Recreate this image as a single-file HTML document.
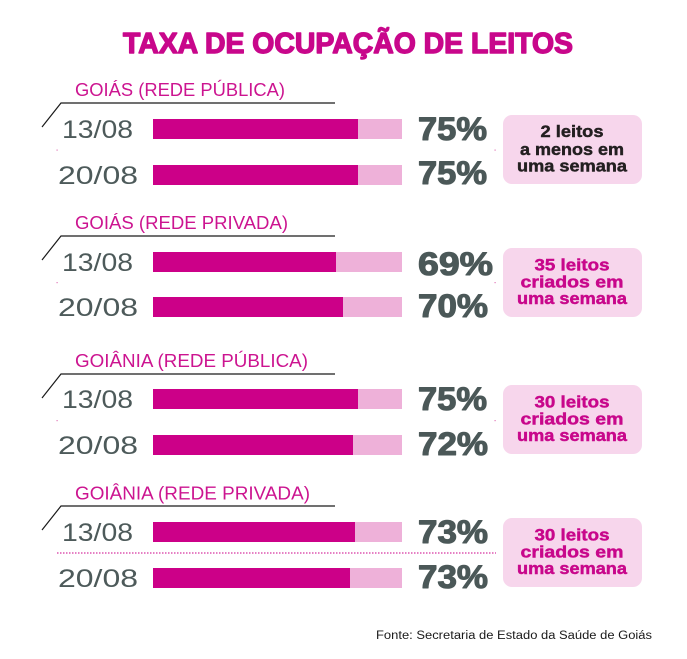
<!DOCTYPE html>
<html>
<head>
<meta charset="utf-8">
<style>
html,body{margin:0;padding:0;background:#fff;}
svg{display:block;}
.t{font-family:"Liberation Sans",sans-serif;}
.p{stroke:#4b5858;stroke-width:1.1;stroke-linejoin:round;}
.bm{stroke:#c8078b;stroke-width:0.45;}
.bd{stroke:#231f20;stroke-width:0.45;}
</style>
</head>
<body>
<svg width="687" height="659" viewBox="0 0 687 659" xmlns="http://www.w3.org/2000/svg">
<rect width="687" height="659" fill="#fff"/>
<text class="t" x="123" y="53" font-size="29" font-weight="bold" fill="#c8078b" stroke="#c8078b" stroke-width="1.4" stroke-linejoin="round" textLength="450" lengthAdjust="spacingAndGlyphs">TAXA DE OCUPAÇÃO DE LEITOS</text>

<!-- Section 1 -->
<g>
<text class="t" x="75" y="96" font-size="18" fill="#cc1490" textLength="210" lengthAdjust="spacingAndGlyphs">GOIÁS (REDE PÚBLICA)</text>
<path d="M42 127 L61 103 L335 103" fill="none" stroke="#1a1a1a" stroke-width="1.2"/>
<text class="t" x="97.5" y="138" font-size="25" fill="#4d5a5a" text-anchor="middle" textLength="71" lengthAdjust="spacingAndGlyphs">13/08</text>
<text class="t" x="98" y="184" font-size="25" fill="#4d5a5a" text-anchor="middle" textLength="80" lengthAdjust="spacingAndGlyphs">20/08</text>
<rect x="153" y="119" width="249" height="20" fill="#eeb1d9"/>
<rect x="153" y="119" width="205" height="20" fill="#cc0088"/>
<rect x="153" y="165" width="249" height="20" fill="#eeb1d9"/>
<rect x="153" y="165" width="205" height="20" fill="#cc0088"/>
<text class="t p" x="418" y="140" font-size="32" font-weight="bold" fill="#4b5858" textLength="69" lengthAdjust="spacingAndGlyphs">75%</text>
<text class="t p" x="418" y="184" font-size="32" font-weight="bold" fill="#4b5858" textLength="69" lengthAdjust="spacingAndGlyphs">75%</text>
<rect x="503" y="115" width="139" height="69" rx="9" fill="#f7d6ec"/>
<text class="t bd" x="572" y="137" font-size="17" font-weight="bold" fill="#231f20" text-anchor="middle" textLength="63" lengthAdjust="spacingAndGlyphs">2 leitos</text>
<text class="t bd" x="572" y="155" font-size="17" font-weight="bold" fill="#231f20" text-anchor="middle" textLength="104" lengthAdjust="spacingAndGlyphs">a menos em</text>
<text class="t bd" x="572" y="171.5" font-size="17" font-weight="bold" fill="#231f20" text-anchor="middle" textLength="110" lengthAdjust="spacingAndGlyphs">uma semana</text>
<rect x="56.5" y="149.5" width="1.2" height="1.2" fill="#e07ab8"/>
<rect x="494.5" y="149.5" width="1.2" height="1.2" fill="#e07ab8"/>
</g>

<!-- Section 2 -->
<g>
<text class="t" x="75" y="229" font-size="18" fill="#cc1490" textLength="213" lengthAdjust="spacingAndGlyphs">GOIÁS (REDE PRIVADA)</text>
<path d="M42 260 L61 236 L335 236" fill="none" stroke="#1a1a1a" stroke-width="1.2"/>
<text class="t" x="97.5" y="271" font-size="25" fill="#4d5a5a" text-anchor="middle" textLength="71" lengthAdjust="spacingAndGlyphs">13/08</text>
<text class="t" x="98" y="316" font-size="25" fill="#4d5a5a" text-anchor="middle" textLength="80" lengthAdjust="spacingAndGlyphs">20/08</text>
<rect x="153" y="252" width="249" height="20" fill="#eeb1d9"/>
<rect x="153" y="252" width="183" height="20" fill="#cc0088"/>
<rect x="153" y="297" width="249" height="20" fill="#eeb1d9"/>
<rect x="153" y="297" width="190" height="20" fill="#cc0088"/>
<text class="t p" x="418" y="275" font-size="32" font-weight="bold" fill="#4b5858" textLength="75" lengthAdjust="spacingAndGlyphs">69%</text>
<text class="t p" x="418" y="317" font-size="32" font-weight="bold" fill="#4b5858" textLength="70" lengthAdjust="spacingAndGlyphs">70%</text>
<rect x="503" y="248" width="139" height="69" rx="9" fill="#f7d6ec"/>
<text class="t bm" x="572" y="270.5" font-size="17" font-weight="bold" fill="#c8078b" text-anchor="middle" textLength="75" lengthAdjust="spacingAndGlyphs">35 leitos</text>
<text class="t bm" x="572" y="287.5" font-size="17" font-weight="bold" fill="#c8078b" text-anchor="middle" textLength="103" lengthAdjust="spacingAndGlyphs">criados em</text>
<text class="t bm" x="572" y="304" font-size="17" font-weight="bold" fill="#c8078b" text-anchor="middle" textLength="110" lengthAdjust="spacingAndGlyphs">uma semana</text>
<rect x="56.5" y="282" width="1.2" height="1.2" fill="#e07ab8"/>
<rect x="494.5" y="282" width="1.2" height="1.2" fill="#e07ab8"/>
</g>

<!-- Section 3 -->
<g>
<text class="t" x="75" y="367" font-size="18" fill="#cc1490" textLength="233" lengthAdjust="spacingAndGlyphs">GOIÂNIA (REDE PÚBLICA)</text>
<path d="M42 398 L61 374 L335 374" fill="none" stroke="#1a1a1a" stroke-width="1.2"/>
<text class="t" x="97.5" y="408" font-size="25" fill="#4d5a5a" text-anchor="middle" textLength="71" lengthAdjust="spacingAndGlyphs">13/08</text>
<text class="t" x="98" y="454" font-size="25" fill="#4d5a5a" text-anchor="middle" textLength="80" lengthAdjust="spacingAndGlyphs">20/08</text>
<rect x="153" y="389" width="249" height="20" fill="#eeb1d9"/>
<rect x="153" y="389" width="205" height="20" fill="#cc0088"/>
<rect x="153" y="435" width="249" height="20" fill="#eeb1d9"/>
<rect x="153" y="435" width="200" height="20" fill="#cc0088"/>
<text class="t p" x="418" y="410" font-size="32" font-weight="bold" fill="#4b5858" textLength="69" lengthAdjust="spacingAndGlyphs">75%</text>
<text class="t p" x="418" y="455" font-size="32" font-weight="bold" fill="#4b5858" textLength="70" lengthAdjust="spacingAndGlyphs">72%</text>
<rect x="503" y="385" width="139" height="69" rx="9" fill="#f7d6ec"/>
<text class="t bm" x="572" y="407.5" font-size="17" font-weight="bold" fill="#c8078b" text-anchor="middle" textLength="75" lengthAdjust="spacingAndGlyphs">30 leitos</text>
<text class="t bm" x="572" y="424.5" font-size="17" font-weight="bold" fill="#c8078b" text-anchor="middle" textLength="103" lengthAdjust="spacingAndGlyphs">criados em</text>
<text class="t bm" x="572" y="441" font-size="17" font-weight="bold" fill="#c8078b" text-anchor="middle" textLength="110" lengthAdjust="spacingAndGlyphs">uma semana</text>
<rect x="56.5" y="420" width="1.2" height="1.2" fill="#e07ab8"/>
<rect x="494.5" y="420" width="1.2" height="1.2" fill="#e07ab8"/>
</g>

<!-- Section 4 -->
<g>
<text class="t" x="75" y="499.5" font-size="18" fill="#cc1490" textLength="235" lengthAdjust="spacingAndGlyphs">GOIÂNIA (REDE PRIVADA)</text>
<path d="M42 530 L61 506 L335 506" fill="none" stroke="#1a1a1a" stroke-width="1.2"/>
<text class="t" x="97.5" y="541" font-size="25" fill="#4d5a5a" text-anchor="middle" textLength="71" lengthAdjust="spacingAndGlyphs">13/08</text>
<text class="t" x="98" y="587" font-size="25" fill="#4d5a5a" text-anchor="middle" textLength="80" lengthAdjust="spacingAndGlyphs">20/08</text>
<rect x="153" y="522" width="249" height="20" fill="#eeb1d9"/>
<rect x="153" y="522" width="202" height="20" fill="#cc0088"/>
<rect x="153" y="568" width="249" height="20" fill="#eeb1d9"/>
<rect x="153" y="568" width="197" height="20" fill="#cc0088"/>
<line x1="57" y1="553" x2="496" y2="553" stroke="#cc0088" stroke-width="1" stroke-dasharray="1.5 1.5"/>
<text class="t p" x="418" y="543" font-size="32" font-weight="bold" fill="#4b5858" textLength="70" lengthAdjust="spacingAndGlyphs">73%</text>
<text class="t p" x="418" y="588" font-size="32" font-weight="bold" fill="#4b5858" textLength="70" lengthAdjust="spacingAndGlyphs">73%</text>
<rect x="503" y="518" width="139" height="69" rx="9" fill="#f7d6ec"/>
<text class="t bm" x="572" y="540.5" font-size="17" font-weight="bold" fill="#c8078b" text-anchor="middle" textLength="75" lengthAdjust="spacingAndGlyphs">30 leitos</text>
<text class="t bm" x="572" y="557.5" font-size="17" font-weight="bold" fill="#c8078b" text-anchor="middle" textLength="103" lengthAdjust="spacingAndGlyphs">criados em</text>
<text class="t bm" x="572" y="574" font-size="17" font-weight="bold" fill="#c8078b" text-anchor="middle" textLength="110" lengthAdjust="spacingAndGlyphs">uma semana</text>
</g>

<text class="t" x="376" y="639" font-size="11.5" fill="#1a1a1a" textLength="276" lengthAdjust="spacingAndGlyphs">Fonte: Secretaria de Estado da Saúde de Goiás</text>
</svg>
</body>
</html>
